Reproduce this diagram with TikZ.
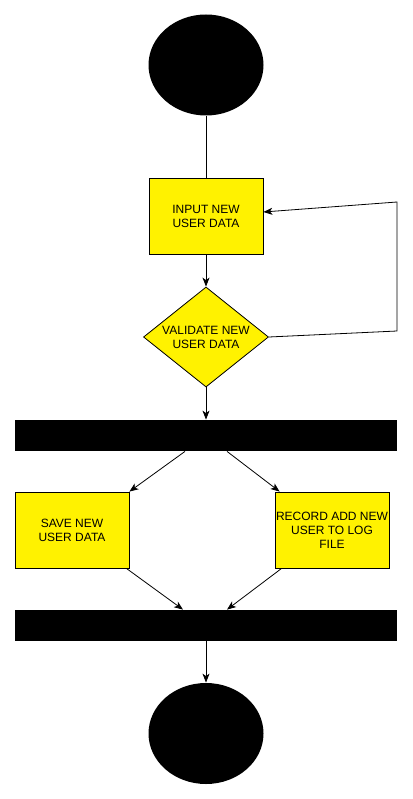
\documentclass[tikz,border=0pt]{standalone}
\usepackage{fontspec}
\setmainfont{Liberation Sans}
\usetikzlibrary{shapes.geometric,arrows.meta}

\begin{document}
\begin{tikzpicture}[x=1pt,y=-1pt,>={Stealth[length=9pt,width=7pt,inset=2.5pt]},
    line width=0.8pt,
    every node/.style={font=\fontsize{12}{14}\selectfont,align=center,inner sep=1pt},
    terminal/.style={ellipse,fill=black,minimum width=115pt,minimum height=101pt},
    action/.style={rectangle,draw=black,fill=yellow,minimum width=114pt,minimum height=76pt},
    decision/.style={diamond,draw=black,fill=yellow,inner sep=0pt,shape aspect=1.25,minimum width=125pt,minimum height=100pt},
    syncbar/.style={rectangle,fill=black,minimum width=382pt,minimum height=31pt}]
    \fill[white](0,0)rectangle(412,799);

    \node[terminal](start)at(206,65){};
    \node[action](input)at(206,216.5){INPUT NEW\\USER DATA};
    \node[decision](validate)at(206,337){VALIDATE NEW\\USER DATA};
    \node[syncbar](fork)at(206,435.5){};
    \node[action](save)at(72,530){SAVE NEW\\USER DATA};
    \node[action](record)at(332,530){RECORD ADD NEW\\USER TO LOG\\FILE};
    \node[syncbar](join)at(206,625.5){};
    \node[terminal](stop)at(206,733.5){};

    \coordinate(loopA)at(397,331);
    \coordinate(loopB)at(397,202);

    \draw(start)--(input);
    \draw[->](input)--(validate);
    \draw[->](validate.east)--(loopA)--(loopB)--([yshift=4.5pt]input.east);
    \draw[->](validate)--(fork);
    \draw[->]([xshift=-21pt]fork.south)--(save.north east);
    \draw[->]([xshift=21pt]fork.south)--([xshift=5pt]record.north west);
    \draw[->]([xshift=-3pt]save.south east)--([xshift=-23pt]join.north);
    \draw[->]([xshift=7pt]record.south west)--([xshift=21pt]join.north);
    \draw[->](join)--(stop);
\end{tikzpicture}
\end{document}
